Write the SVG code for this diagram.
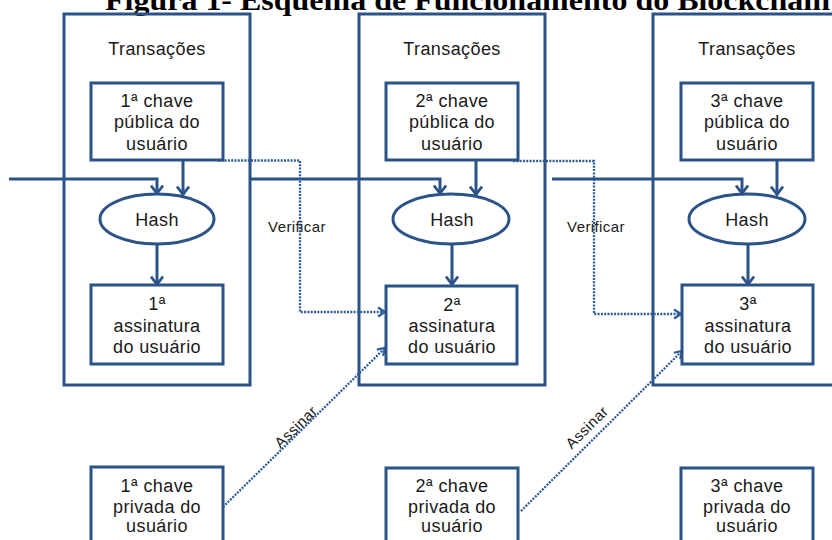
<svg xmlns="http://www.w3.org/2000/svg" width="832" height="540" viewBox="0 0 832 540">
<style>
.box{fill:#fff;stroke:#2C5387;stroke-width:3}
.frame{fill:none;stroke:#2C5387;stroke-width:3}
.t{font-family:"Liberation Sans",Arial,sans-serif;font-size:18px;fill:#1a1a1a;text-anchor:middle;letter-spacing:0.4px}
.s{font-size:15px}
.title{font-family:"Liberation Serif","Times New Roman",serif;font-size:30px;font-weight:bold;fill:#000}
.conn{fill:none;stroke:#2C5387;stroke-width:3}
.dot{fill:none;stroke:#2E5C9A;stroke-width:2.3;stroke-dasharray:2 1.3}
</style>
<defs>
<marker id="arr" viewBox="0 0 12 14" refX="10.5" refY="7" markerWidth="12" markerHeight="14" markerUnits="userSpaceOnUse" orient="auto">
<path d="M2,1 L10,7 L2,13" fill="none" stroke="#2C5387" stroke-width="2.8"/>
</marker>
<marker id="arrd" viewBox="0 0 10 12" refX="9" refY="6" markerWidth="10" markerHeight="12" markerUnits="userSpaceOnUse" orient="auto">
<path d="M2,1.5 L9,6 L2,10.5" fill="none" stroke="#2E5C9A" stroke-width="2.2"/>
</marker>
</defs>
<rect width="832" height="540" fill="#fff"/>
<text class="title" x="105" y="10" textLength="725" lengthAdjust="spacingAndGlyphs">Figura 1- Esquema de Funcionamento do Blockchain</text>

<g id="bloco1"><rect class="frame" x="64" y="14" width="186" height="371"/><text class="t" x="157" y="55">Transações</text></g>
<g id="bloco2"><rect class="frame" x="359" y="14" width="186" height="371"/><text class="t" x="452" y="55">Transações</text></g>
<g id="bloco3"><rect class="frame" x="653" y="14" width="200" height="371"/><text class="t" x="747" y="55">Transações</text></g>

<g id="connectors">
<path class="conn" d="M9,179 H157 V194" marker-end="url(#arr)"/>
<path class="conn" d="M250,179 H440 V194" marker-end="url(#arr)"/>
<path class="conn" d="M552,179 H742 V194" marker-end="url(#arr)"/>
<path class="conn" d="M183,160 V195" marker-end="url(#arr)"/>
<path class="conn" d="M476,160 V195" marker-end="url(#arr)"/>
<path class="conn" d="M777,160 V195" marker-end="url(#arr)"/>
<path class="conn" d="M157,244 V285" marker-end="url(#arr)"/>
<path class="conn" d="M452,244 V285" marker-end="url(#arr)"/>
<path class="conn" d="M748,244 V285" marker-end="url(#arr)"/>
<path class="dot" d="M218,160.5 H300 V312 H385" marker-end="url(#arrd)"/>
<path class="dot" d="M513,161 H594 V314 H681" marker-end="url(#arrd)"/>
<path class="dot" d="M223,507 L385,348" marker-end="url(#arrd)"/>
<path class="dot" d="M521,511 L682,351" marker-end="url(#arrd)"/>
<text class="t s" x="297" y="232">Verificar</text>
<text class="t s" x="596" y="232">Verificar</text>
<text class="t s" transform="translate(299.5,430.6) rotate(-44.3)" x="0" y="0">Assinar</text>
<text class="t s" transform="translate(590.5,431) rotate(-44.9)" x="0" y="0">Assinar</text>
</g>

<g id="pub1"><rect class="box" x="91" y="83" width="132" height="77"/><text class="t" x="157" y="106.5">1ª chave</text><text class="t" x="157" y="128">pública do</text><text class="t" x="157" y="149.5">usuário</text></g>
<g id="pub2"><rect class="box" x="386" y="83" width="132" height="77"/><text class="t" x="452" y="106.5">2ª chave</text><text class="t" x="452" y="128">pública do</text><text class="t" x="452" y="149.5">usuário</text></g>
<g id="pub3"><rect class="box" x="681" y="83" width="132" height="77"/><text class="t" x="747" y="106.5">3ª chave</text><text class="t" x="747" y="128">pública do</text><text class="t" x="747" y="149.5">usuário</text></g>

<g id="hash1"><ellipse class="box" cx="157" cy="219" rx="57" ry="25"/><text class="t" x="157" y="225.5">Hash</text></g>
<g id="hash2"><ellipse class="box" cx="451" cy="219" rx="58" ry="25"/><text class="t" x="452" y="225.5">Hash</text></g>
<g id="hash3"><ellipse class="box" cx="747" cy="219" rx="58" ry="25"/><text class="t" x="747" y="225.5">Hash</text></g>

<g id="sig1"><rect class="box" x="91" y="285" width="132" height="79"/><text class="t" x="157" y="310">1ª</text><text class="t" x="157" y="331.5">assinatura</text><text class="t" x="157" y="352.5">do usuário</text></g>
<g id="sig2"><rect class="box" x="386" y="286" width="131" height="78"/><text class="t" x="452" y="310.5">2ª</text><text class="t" x="452" y="331.5">assinatura</text><text class="t" x="452" y="352.5">do usuário</text></g>
<g id="sig3"><rect class="box" x="682" y="285" width="131" height="79"/><text class="t" x="748" y="310">3ª</text><text class="t" x="748" y="331.5">assinatura</text><text class="t" x="748" y="352.5">do usuário</text></g>

<g id="priv1"><rect class="box" x="91" y="467" width="132" height="90"/><text class="t" x="157" y="491.5">1ª chave</text><text class="t" x="157" y="512.5">privada do</text><text class="t" x="157" y="532">usuário</text></g>
<g id="priv2"><rect class="box" x="386" y="468" width="132" height="90"/><text class="t" x="452" y="491.5">2ª chave</text><text class="t" x="452" y="512.5">privada do</text><text class="t" x="452" y="532">usuário</text></g>
<g id="priv3"><rect class="box" x="681" y="468" width="132" height="90"/><text class="t" x="747" y="491.5">3ª chave</text><text class="t" x="747" y="512.5">privada do</text><text class="t" x="747" y="532">usuário</text></g>
</svg>
